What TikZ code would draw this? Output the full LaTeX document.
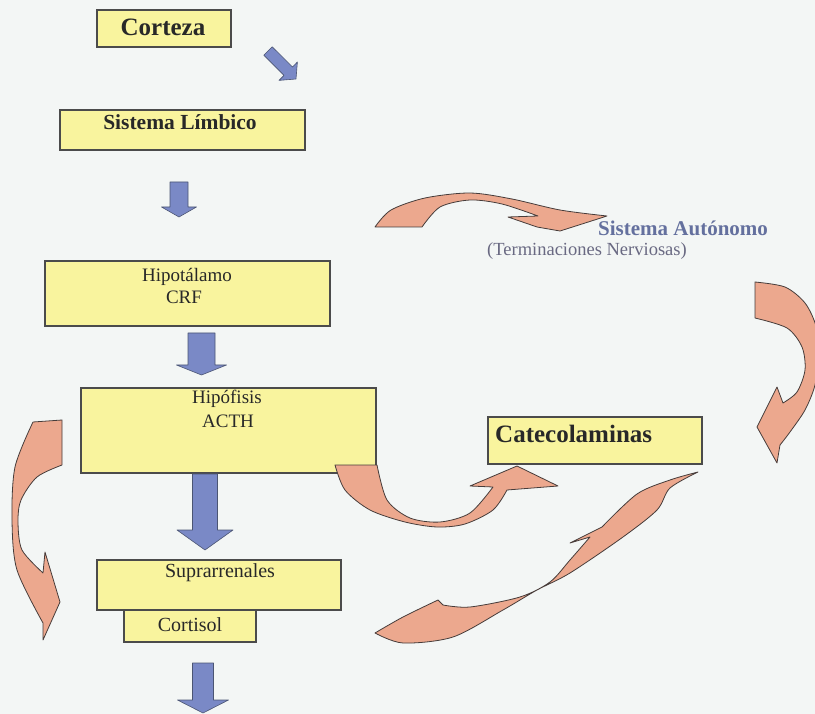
\documentclass[tikz,border=0pt]{standalone}
\usepackage{fontspec}
\setmainfont{Liberation Serif}
\usetikzlibrary{calc}
\definecolor{paper}{RGB}{243,246,245}
\definecolor{boxfill}{RGB}{249,244,158}
\definecolor{boxline}{RGB}{75,75,75}
\definecolor{bluefill}{RGB}{122,137,198}
\definecolor{blueline}{RGB}{75,85,115}
\definecolor{orfill}{RGB}{236,168,142}
\definecolor{orline}{RGB}{70,60,58}
\definecolor{ink}{RGB}{40,40,40}
\definecolor{autono}{RGB}{100,112,158}
\definecolor{autsub}{RGB}{105,105,130}
\newcommand\blkdown[6]{%
  \draw[bluearrow] (#1-#4,#2) -- (#1+#4,#2) -- (#1+#4,#3-#6) -- (#1+#5,#3-#6) -- (#1,#3) -- (#1-#5,#3-#6) -- (#1-#4,#3-#6) -- cycle;}
\begin{document}
\begin{tikzpicture}[x=1pt,y=-1pt,
  box/.style={draw=boxline, fill=boxfill, line width=1.1pt, inner sep=0pt, outer sep=0pt, anchor=north west},
  bluearrow/.style={fill=bluefill, draw=blueline, line width=0.6pt, line join=round},
  orarrow/.style={fill=orfill, draw=orline, line width=0.8pt, line join=round},
  lbl/.style={text=ink, font=\fontsize{19}{19}\selectfont, inner sep=0pt},
  lblb/.style={text=ink, font=\fontsize{20}{20}\selectfont, inner sep=0pt},
  blbl/.style={text=ink, font=\bfseries\fontsize{25}{25}\selectfont, inner sep=0pt}]
\fill[paper] (0,0) rectangle (815,714);
\useasboundingbox (0,0) rectangle (815,714);

% boxes
\node[box, minimum width=134pt, minimum height=37pt] (corteza) at (97,10) {};
\node[box, minimum width=245pt, minimum height=40pt] (limbico) at (60,110) {};
\node[box, minimum width=285pt, minimum height=65pt] (hipotal) at (45,261) {};
\node[box, minimum width=295pt, minimum height=85pt] (hipofis) at (81,388) {};
\node[box, minimum width=214pt, minimum height=47pt] (cateco) at (488,417) {};
\node[box, minimum width=244pt, minimum height=50pt] (supra) at (97,560) {};
\node[box, minimum width=132pt, minimum height=32pt] (cortisol) at (124,610) {};

% texts
\node[blbl] (tcort) at (163,27) {Corteza};
\node[blbl, font=\bfseries\fontsize{21.5}{21.5}\selectfont] (tlimb) at (180,122) {Sistema Límbico};
\node[lbl] (thipot) at (187,277) {Hipotálamo};
\node[lbl] (tcrf) at (184,297) {CRF};
\node[lbl] (thipof) at (227,399) {Hipófisis};
\node[lbl] (tacth) at (228,421) {ACTH};
\node[blbl, anchor=west] (tcat) at (495,434) {Catecolaminas};
\node[lblb] (tsupra) at (220,573) {Suprarrenales};
\node[lblb] (tcortis) at (190,625) {Cortisol};
\node[inner sep=0pt, anchor=west, text=autono, font=\bfseries\fontsize{21}{21}\selectfont] (taut) at (598,228) {Sistema Autónomo};
\node[inner sep=0pt, anchor=west, text=autsub, font=\fontsize{18.5}{18.5}\selectfont] (tterm) at (487,251) {(Terminaciones Nerviosas)};

% blue block arrows
\draw[bluearrow] (272.2,46.8) -- (292.5,67.0) -- (297.4,62.0) -- (296,79) -- (279,80.4) -- (284,75.4) -- (263.8,55.2) -- cycle;
\blkdown{179}{182}{217}{9}{17.5}{10}
\blkdown{201.5}{333}{375}{13.5}{25}{10}
\blkdown{205}{474}{550}{12.5}{28}{20}
\blkdown{203}{663}{713}{10.5}{25.5}{13}

% orange curved arrows
% top arrow towards Sistema Autonomo
\draw[orarrow] (375,227) -- plot[smooth] coordinates {(375,227) (391,210) (425,198) (470,193) (512,199) (560,210) (607,216)}
  -- plot[smooth] coordinates {(607,216) (582,224) (560,231)} -- (537,227) -- (508,217) -- (538,216)
  -- plot[smooth] coordinates {(538,216) (502,204) (470,200) (440,207) (422,227)} -- cycle;
% right arrow down to Catecolaminas
\draw[orarrow] (755,282) -- plot[smooth] coordinates {(755,282) (785,287) (805,303) (816,326) (819,353) (815,385) (805,410) (790,432) (780,445)}
  -- (777,463) -- (757,427) -- (777,387) -- (783,403)
  -- plot[smooth] coordinates {(783,403) (797,392) (805,370) (802,347) (787,328) (755,318)} -- cycle;
% left arrow
\draw[orarrow] (33,422) -- (62,420) -- (62,465)
  -- plot[smooth] coordinates {(62,465) (37,477) (21,500) (18,522) (22,550) (43,573)}
  -- (45,552) -- (60,602) -- (43,640) -- (43,623)
  -- plot[smooth] coordinates {(43,623) (17,570) (12,520) (15,467) (33,422)} -- cycle;
% Hipofisis -> Catecolaminas
\draw[orarrow] (335,465) -- (377,465)
  -- plot[smooth] coordinates {(377,465) (387,500) (410,518) (440,522) (470,513) (493,487)}
  -- (470,486) -- (517,466) -- (558,486) -- (507,490)
  -- plot[smooth] coordinates {(507,490) (493,510) (465,524) (437,527) (405,522) (370,510) (345,490) (335,465)} -- cycle;
% long thin arrow Cortisol -> Catecolaminas
\draw[orarrow] (375,633) -- plot[smooth] coordinates {(375,633) (403,617) (438,600)} -- (443,605)
  -- plot[smooth] coordinates {(443,605) (470,607) (520,597) (550,582) (570,560) (590,537)}
  -- (570,543) -- (602,527)
  -- plot[smooth] coordinates {(602,527) (637,494) (670,480) (698,472)}
  -- plot[smooth] coordinates {(698,472) (670,488) (657,510) (623,537) (570,573) (537,590) (503,610) (453,637) (403,643) (375,633)} -- cycle;
\end{tikzpicture}
\end{document}
